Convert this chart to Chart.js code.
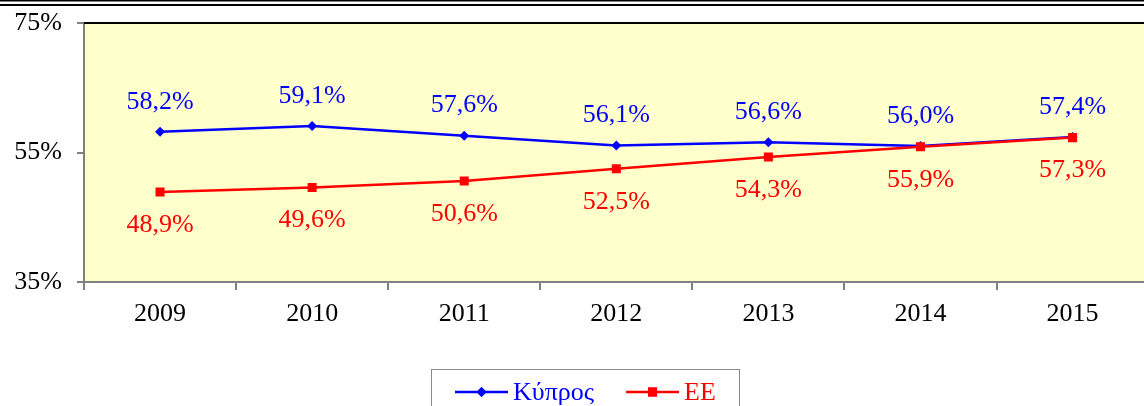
<!DOCTYPE html>
<html>
<head>
<meta charset="utf-8">
<script src="https://cdn.jsdelivr.net/npm/chart.js@4.4.1/dist/chart.umd.min.js"></script>
<style>
  html, body { margin: 0; padding: 0; background: #fff; overflow: hidden; }
  #wrap { width: 1155px; height: 406px; }
</style>
</head>
<body>
<div id="wrap"><canvas id="c" width="1155" height="406"></canvas></div>
<script>
// Employment rate, Cyprus vs EU
const years = ['2009', '2010', '2011', '2012', '2013', '2014', '2015'];
const cyprus = [58.2, 59.1, 57.6, 56.1, 56.6, 56.0, 57.4];
const eu = [48.9, 49.6, 50.6, 52.5, 54.3, 55.9, 57.3];
const seriesNames = ['Κύπρος', 'ΕΕ'];
const yTicks = [35, 55, 75];

const FONT = 'Liberation Serif';
Chart.defaults.font.family = FONT;
Chart.defaults.font.size = 26;
Chart.defaults.color = '#000';

const fmt = v => v.toFixed(1).replace('.', ',') + '%';

// Yellow plot background, black top edge and the double rule at the top
const frame = {
  id: 'frame',
  beforeDraw(chart) {
    const { ctx, chartArea: a, width } = chart;
    ctx.save();
    ctx.fillStyle = '#FFFFCC';
    ctx.fillRect(a.left, a.top, a.right - a.left, a.bottom - a.top);
    ctx.fillStyle = '#000';
    ctx.fillRect(0, 0, width, 1.5);
    ctx.fillRect(0, 4, width, 2);
    ctx.restore();
  },
  afterDatasetsDraw(chart) {
    const { ctx, chartArea: a } = chart;
    ctx.save();
    ctx.fillStyle = '#000';
    ctx.fillRect(a.left, a.top - 1, a.right - a.left, 2);
    ctx.restore();
  }
};

// Value labels: Cyprus above its points, EU below
const valueLabels = {
  id: 'valueLabels',
  afterDatasetsDraw(chart) {
    const { ctx } = chart;
    ctx.save();
    ctx.font = '26px "' + FONT + '"';
    ctx.textAlign = 'center';
    ctx.textBaseline = 'middle';
    chart.data.datasets.forEach((ds, i) => {
      const meta = chart.getDatasetMeta(i);
      const dy = ds.labelSide === 'above' ? -30 : 33;
      ctx.fillStyle = ds.borderColor;
      meta.data.forEach((pt, j) => {
        ctx.fillText(fmt(ds.data[j]), pt.x, pt.y + dy);
      });
    });
    ctx.restore();
  }
};

// Boxed legend below the axis
const boxLegend = {
  id: 'boxLegend',
  afterDraw(chart) {
    const { ctx } = chart;
    const left = 431, top = 369, w = 308, h = 60;
    ctx.save();
    ctx.strokeStyle = '#888';
    ctx.lineWidth = 1;
    ctx.strokeRect(left + 0.5, top + 0.5, w, h);
    ctx.font = '26px "' + FONT + '"';
    ctx.textBaseline = 'alphabetic';
    ctx.textAlign = 'left';
    let x = left + 24;
    const ly = 392;
    chart.data.datasets.forEach(ds => {
      ctx.strokeStyle = ds.borderColor;
      ctx.lineWidth = 2.5;
      ctx.beginPath();
      ctx.moveTo(x, ly);
      ctx.lineTo(x + 53, ly);
      ctx.stroke();
      ctx.fillStyle = ds.borderColor;
      Chart.helpers.drawPoint(ctx, {
        pointStyle: ds.pointStyle, rotation: 0, radius: ds.pointRadius, borderWidth: 0
      }, x + 26.5, ly);
      ctx.fill();
      ctx.fillStyle = ds.borderColor;
      ctx.fillText(ds.label, x + 58, 400);
      x += 58 + ctx.measureText(ds.label).width + 32;
    });
    ctx.restore();
  }
};

new Chart(document.getElementById('c'), {
  type: 'line',
  data: {
    labels: years,
    datasets: [
      {
        label: seriesNames[0],
        data: cyprus,
        borderColor: '#0000FF',
        backgroundColor: '#0000FF',
        borderWidth: 2.5,
        pointStyle: 'rectRot',
        pointRadius: 5,
        pointBorderWidth: 0,
        labelSide: 'above',
        order: 1
      },
      {
        label: seriesNames[1],
        data: eu,
        borderColor: '#FF0000',
        backgroundColor: '#FF0000',
        borderWidth: 2.5,
        pointStyle: 'rect',
        pointRadius: 6.4,
        pointBorderWidth: 0,
        labelSide: 'below',
        order: 0
      }
    ]
  },
  options: {
    responsive: false,
    animation: false,
    layout: { padding: { top: 23, left: 0, right: 0, bottom: 0 } },
    plugins: {
      legend: { display: false },
      tooltip: { enabled: false }
    },
    scales: {
      x: {
        offset: true,
        grid: {
          offset: true,
          drawOnChartArea: false,
          drawTicks: true,
          tickLength: 8,
          color: '#808080',
          lineWidth: 2
        },
        border: { display: true, color: '#808080', width: 2 },
        ticks: { padding: 9, font: { size: 26 }, color: '#000', maxRotation: 0 },
        afterFit(s) { s.height = 124; s.paddingLeft = 0; s.paddingRight = 0; }
      },
      y: {
        min: 35,
        max: 75,
        afterBuildTicks(s) { s.ticks = yTicks.map(v => ({ value: v })); },
        grid: {
          drawOnChartArea: false,
          drawTicks: true,
          tickLength: 7,
          color: '#808080',
          lineWidth: 2
        },
        border: { display: true, color: '#808080', width: 2 },
        ticks: { padding: 15, font: { size: 26 }, color: '#000', callback: v => v + '%' },
        afterFit(s) { s.width = 84; s.paddingTop = 0; s.paddingBottom = 0; }
      }
    }
  },
  plugins: [frame, valueLabels, boxLegend]
});
</script>
</body>
</html>
